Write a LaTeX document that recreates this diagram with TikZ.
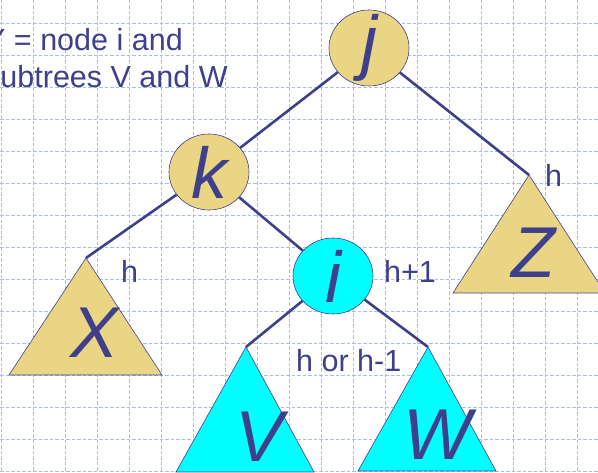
\documentclass[tikz,border=0pt]{standalone}
\usepackage{fontspec}
\setmainfont{Liberation Sans}
\usetikzlibrary{shapes.geometric}
\definecolor{nodetan}{RGB}{234,213,133}
\definecolor{nodecyan}{RGB}{0,255,255}
\definecolor{ink}{RGB}{62,64,140}
\definecolor{gridblue}{RGB}{165,188,255}
\begin{document}
\begin{tikzpicture}[x=1pt,y=-1pt,
  gridline/.style={gridblue,line width=0.6pt,dash pattern=on 3.5pt off 2pt},
  treenode/.style={ellipse,draw=ink,line width=0.6pt,minimum width=80pt,minimum height=76pt,inner sep=0pt},
  bigletter/.style={text=ink,font=\fontsize{72}{72}\selectfont\itshape,inner sep=0pt},
  hlabel/.style={text=ink,font=\fontsize{30.5}{36}\selectfont,inner sep=0pt,anchor=base west},
  subtree/.style={draw=ink,line width=0.6pt},
  branch/.style={draw=ink,line width=2.6pt}]
\useasboundingbox (0,0) rectangle (598,473);
\clip (0,0) rectangle (598,473);

% background grid
\foreach \gx in {1.5,33.5,...,577.5} \draw[gridline] (\gx,0) -- (\gx,473);
\foreach \gy in {23.5,55.5,...,471.5} \draw[gridline] (0,\gy) -- (598,\gy);

\node[hlabel] (cap1) at (-15,51) {Y = node i and};
\node[hlabel] (cap2) at (-15,88) {subtrees V and W};

% nodes
\node[treenode,fill=nodetan] (j) at (369,48) {};
\node[treenode,fill=nodetan] (k) at (209,172) {};
\node[treenode,fill=nodecyan] (i) at (333,276) {};
\node[bigletter] (jl) at (j) {j};
\node[bigletter] (kl) at (k) {k};
\node[bigletter] (il) at (i) {i};

% subtrees
\coordinate (Xtop) at (86,258);
\coordinate (Ztop) at (529,175);
\coordinate (Vtop) at (246,347);
\coordinate (Wtop) at (428,347);
\draw[subtree,fill=nodetan] (Xtop) -- (9,375) -- (162,375) -- cycle;
\draw[subtree,fill=nodetan] (Ztop) -- (453,293) -- (605,293) -- cycle;
\draw[subtree,fill=nodecyan] (Vtop) -- (176,472) -- (314,472) -- cycle;
\draw[subtree,fill=nodecyan] (Wtop) -- (358,471) -- (496,471) -- cycle;
\node[bigletter,anchor=base] (Xl) at (95,358) {X};
\node[bigletter,anchor=base] (Zl) at (533,278) {Z};
\node[bigletter,anchor=base] (Vl) at (260,461) {V};
\node[bigletter,anchor=base] (Wl) at (437,460) {W};

% branches
\draw[branch] (j) -- (k);
\draw[branch] (j) -- (Ztop);
\draw[branch] (k) -- (Xtop);
\draw[branch] (k) -- (i);
\draw[branch] (i) -- (Vtop);
\draw[branch] (i) -- (Wtop);

% heights
\node[hlabel] (hz) at (545,187) {h};
\node[hlabel] (hx) at (121,283) {h};
\node[hlabel] (hi) at (384,283) {h+1};
\node[hlabel] (hvw) at (296,372) {h or h-1};
\end{tikzpicture}
\end{document}
